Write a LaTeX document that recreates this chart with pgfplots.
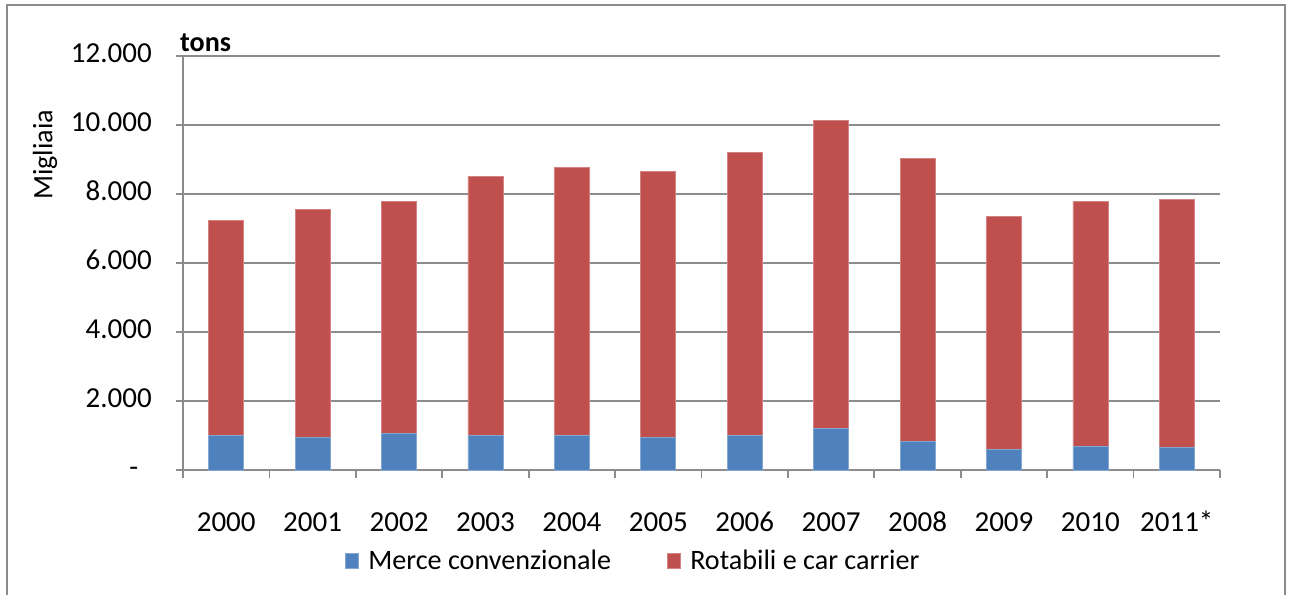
\documentclass[border=0pt]{standalone}
\usepackage{pgfplots}
\pgfplotsset{compat=1.18}
\usepackage{fontspec}
\setmainfont{Carlito}
\definecolor{cblue}{HTML}{4F81BD}
\definecolor{cred}{HTML}{C0504D}
\definecolor{cgrid}{HTML}{8C8C8C}
\begin{document}
\begin{tikzpicture}
\path[use as bounding box] (0,0) rectangle (25.82cm,11.88cm);
\draw[cgrid, line width=0.8pt] (0.14cm,-0.2cm) -- (0.14cm,11.78cm) -- (25.70cm,11.78cm) -- (25.70cm,-0.2cm);
\begin{axis}[
  at={(3.66cm,2.48cm)}, anchor=south west,
  scale only axis, width=20.74cm, height=8.28cm,
  font=\fontsize{16.5}{19}\selectfont,
  /pgf/number format/assume math mode=true,
  scaled y ticks=false,
  ybar stacked, bar width=0.7cm,
  xmin=-0.5, xmax=11.5, ymin=0, ymax=12000,
  axis lines*=left,
  axis line style={cgrid, line width=1pt},
  xtick={0,...,11},
  xticklabels={2000,2001,2002,2003,2004,2005,2006,2007,2008,2009,2010,2011*},
  typeset ticklabels with strut,
  major x tick style={draw=none},
  minor xtick={-0.5,0.5,...,11.5},
  minor x tick style={cgrid, line width=1pt},
  minor tick length=0.16cm,
  ytick={0,2000,...,12000},
  yticklabels={\makebox[0.45cm][l]{-},2.000,4.000,6.000,8.000,10.000,12.000},
  major y tick style={cgrid, line width=1pt},
  major tick length=0.14cm,
  tick align=outside,
  ymajorgrids, grid style={cgrid, line width=1pt},
  xticklabel style={yshift=-0.5cm},
  yticklabel style={xshift=-0.36cm},
  legend style={at={(0.156,-0.22)}, anchor=west, draw=none, inner sep=0pt,
    legend columns=2, font=\fontsize{16}{19}\selectfont},
  /tikz/every even column/.append style={column sep=1.05cm},
  legend image code/.code={\fill[#1] (0cm,-0.15cm) rectangle (0.26cm,0.15cm);},
  /tikz/every odd column/.append style={column sep=0cm},
  legend cell align=left,
  clip=false,
]
\addplot[fill=cblue, draw=cblue!70!white, line width=0.4pt] coordinates {
(0,1000) (1,943) (2,1068) (3,1000) (4,1000) (5,943) (6,1000) (7,1195) (8,818) (9,586) (10,690) (11,644)};
\addlegendentry{\hspace{0.12cm}Merce convenzionale}
\addplot[fill=cred, draw=cred!70!white, line width=0.4pt] coordinates {
(0,6236) (1,6603) (2,6719) (3,7521) (4,7773) (5,7714) (6,8208) (7,8941) (8,8207) (9,6766) (10,7097) (11,7201)};
\addlegendentry{\hspace{0.12cm}Rotabili e car carrier}
\node[anchor=base west, font=\fontsize{16}{19}\selectfont\bfseries, inner sep=0pt] at ([yshift=0.1cm]rel axis cs:-0.003,1) {tons};
\node[rotate=90, font=\fontsize{16}{19}\selectfont] at (rel axis cs:-0.133,0.761) {Migliaia};
\end{axis}
\end{tikzpicture}
\end{document}
